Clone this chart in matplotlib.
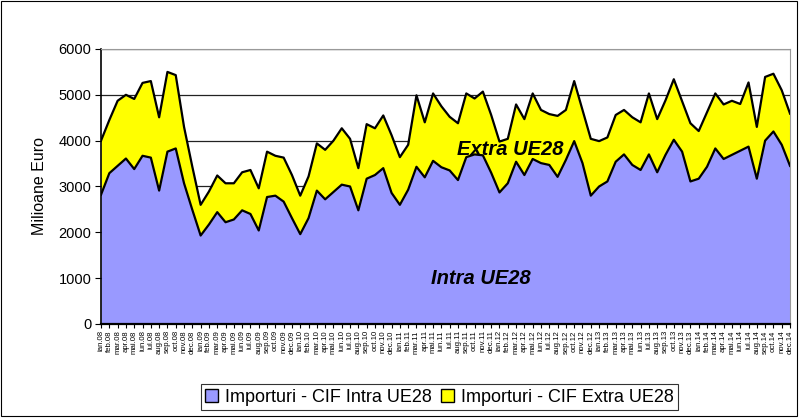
import matplotlib.pyplot as plt
import numpy as np
from matplotlib.patches import Rectangle

plt.rcParams['font.family'] = ['Liberation Sans', 'DejaVu Sans']

# luni ian.08 - dec.14
months = ['ian', 'feb', 'mar', 'apr', 'mai', 'iun', 'iul', 'aug', 'sep', 'oct', 'nov', 'dec']
years = ['08', '09', '10', '11', '12', '13', '14']
labels = [m + '.' + y for y in years for m in months]

# importuri CIF Intra UE28 (milioane euro)
intra = [2820, 3290, 3450, 3610, 3380, 3670, 3630, 2910, 3760, 3830, 3070, 2490,
         1930, 2170, 2440, 2220, 2280, 2480, 2400, 2040, 2770, 2800, 2670, 2310,
         1960, 2310, 2910, 2720, 2880, 3040, 3000, 2480, 3170, 3250, 3400, 2860,
         2600, 2930, 3430, 3200, 3560, 3420, 3350, 3140, 3640, 3700, 3680, 3300,
         2870, 3070, 3540, 3250, 3600, 3510, 3470, 3210, 3580, 3990, 3510, 2800,
         3000, 3110, 3540, 3700, 3470, 3360, 3700, 3310, 3690, 4020, 3760, 3110,
         3170, 3430, 3830, 3600, 3690, 3780, 3870, 3170, 4000, 4200, 3910, 3450]

# importuri CIF Extra UE28 (milioane euro)
extra = [1180, 1160, 1420, 1390, 1530, 1590, 1670, 1600, 1740, 1600, 1230, 940,
         670, 720, 800, 850, 790, 830, 960, 920, 990, 870, 960, 940,
         840, 910, 1030, 1080, 1120, 1230, 1040, 920, 1190, 1020, 1150, 1260,
         1040, 980, 1560, 1200, 1470, 1330, 1170, 1240, 1390, 1220, 1390, 1260,
         1110, 970, 1250, 1220, 1430, 1160, 1110, 1330, 1090, 1310, 1160, 1240,
         990, 960, 1020, 970, 1040, 1040, 1330, 1160, 1190, 1320, 1100, 1270,
         1040, 1190, 1200, 1190, 1180, 1020, 1400, 1130, 1390, 1260, 1190, 1140]

x = np.arange(len(labels))
intra = np.array(intra)
total = intra + np.array(extra)

fig = plt.figure(figsize=(8.05, 4.18), dpi=100)
ax = fig.add_axes([0.1255, 0.2249, 0.8559, 0.6579])

ax.fill_between(x, 0, intra, color='#9999FF', lw=0, label='Importuri - CIF Intra UE28')
ax.fill_between(x, intra, total, color='#FFFF00', lw=0, label='Importuri - CIF Extra UE28')
ax.plot(x, intra, color='black', lw=1.6, zorder=3)
ax.plot(x, total, color='black', lw=1.6, zorder=3)

ax.set_xlim(0, len(labels) - 1)
ax.set_ylim(0, 6000)
ax.set_yticks(range(0, 6001, 1000))
ax.grid(axis='y', color='#222222', lw=0.9, zorder=0)
ax.set_axisbelow(True)

ax.set_xticks(x)
ax.set_xticklabels(labels, rotation=90, fontsize=5.6)
ax.tick_params(axis='x', length=3, width=0.8, pad=1.5)
ax.tick_params(axis='y', labelsize=10.5, length=4, width=0.8, pad=3)
ax.set_ylabel('Milioane Euro', fontsize=11.5, labelpad=8)

ax.spines['left'].set_linewidth(1.2)
ax.spines['bottom'].set_linewidth(1.6)
ax.spines['top'].set_color('#999999')
ax.spines['right'].set_color('#999999')

ax.text(0.594, 0.635, 'Extra UE28', transform=ax.transAxes, fontsize=14.5,
        fontweight='bold', fontstyle='italic', ha='center', va='center', zorder=4)
ax.text(0.551, 0.165, 'Intra UE28', transform=ax.transAxes, fontsize=14.5,
        fontweight='bold', fontstyle='italic', ha='center', va='center', zorder=4)

handles = [Rectangle((0, 0), 1, 1, fc='#9999FF', ec='black', lw=1),
           Rectangle((0, 0), 1, 1, fc='#FFFF00', ec='black', lw=1)]
leg = fig.legend(handles, ['Importuri - CIF Intra UE28', 'Importuri - CIF Extra UE28'],
                 loc='center', bbox_to_anchor=(0.546, 0.05), ncol=2, fontsize=13,
                 frameon=True, fancybox=False, handlelength=0.7, handleheight=0.7,
                 handletextpad=0.4, columnspacing=0.5, borderpad=0.25)
leg.get_frame().set_edgecolor('black')
leg.get_frame().set_linewidth(0.8)

fig.patches.append(Rectangle((0.001, 0.005), 0.989, 0.993, transform=fig.transFigure,
                             fill=False, ec='black', lw=0.8))

plt.savefig('out.png', dpi=100)
